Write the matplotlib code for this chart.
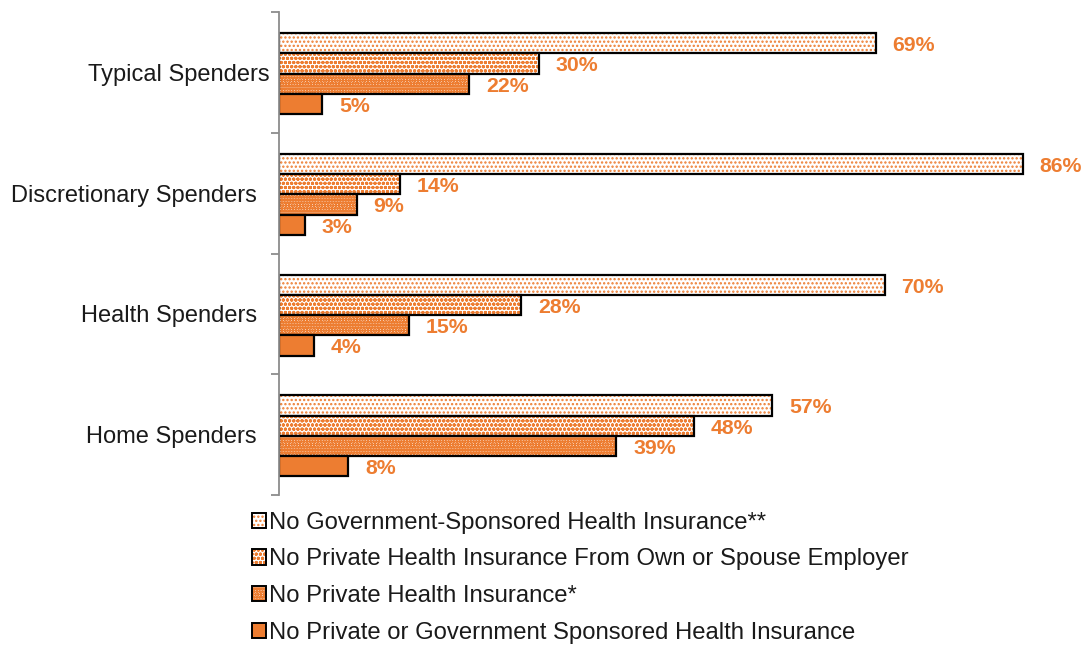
import matplotlib
matplotlib.use("Agg")
import matplotlib.pyplot as plt
import numpy as np
from matplotlib.patches import Patch

plt.rcParams["font.family"] = ["Liberation Sans", "DejaVu Sans"]
plt.rcParams["hatch.linewidth"] = 1.1

categories = ["Typical Spenders", "Discretionary Spenders", "Health Spenders", "Home Spenders"]
series_names = [
    "No Government-Sponsored Health Insurance**",
    "No Private Health Insurance From Own or Spouse Employer",
    "No Private Health Insurance*",
    "No Private or Government Sponsored Health Insurance",
]
values = [
    [69, 86, 70, 57],
    [30, 14, 28, 48],
    [22, 9, 15, 39],
    [5, 3, 4, 8],
]

orange = "#ED7D31"
hatches = ["....", "oooo", "oooooo", None]

fig = plt.figure(figsize=(10.83, 6.47), dpi=100)
ax = fig.add_axes([279 / 1083, 1 - 495 / 647, 1 - 279 / 1083, (495 - 12) / 647])

y = np.arange(len(categories))
bh = 0.168
offsets = [-1.5 * bh, -0.5 * bh, 0.5 * bh, 1.5 * bh]

for k, (vals, h) in enumerate(zip(values, hatches)):
    pos = y + offsets[k] + 0.01
    if h is None:
        ax.barh(pos, vals, height=bh, color=orange, linewidth=0)
    else:
        ax.barh(pos, vals, height=bh, facecolor="white", edgecolor=orange,
                hatch=h, linewidth=0)
    ax.barh(pos, vals, height=bh, fill=False, edgecolor="black", linewidth=1.6)
    for p, v in zip(pos, vals):
        ax.text(v + 1.95, p + 0.02, f"{v}%", ha="left", va="center",
                fontsize=15.3, fontweight="bold", color=orange)

ax.set_xlim(0, 804 / 8.65)
ax.set_ylim(3.5, -0.5)
ax.set_xticks([])
for s in ["top", "right", "bottom"]:
    ax.spines[s].set_visible(False)
ax.spines["left"].set_color("#8c8c8c")
ax.spines["left"].set_linewidth(1.3)

ax.set_yticks(y)
ax.set_yticklabels(categories, fontsize=17, color="#1a1a1a")
ax.tick_params(axis="y", which="major", length=0, pad=16)
ax.set_yticks(np.arange(-0.5, 4, 1.0), minor=True)
ax.tick_params(axis="y", which="minor", length=6, width=1.3, color="#8c8c8c")
ax.yaxis.get_major_ticks()[0].set_pad(6.5)

handles = []
for k, h in enumerate(hatches):
    border = Patch(facecolor="none", edgecolor="black", linewidth=1.4)
    if h is None:
        handles.append((Patch(facecolor=orange, edgecolor=orange, linewidth=0), border))
    else:
        handles.append((Patch(facecolor="white", edgecolor=orange, hatch=h, linewidth=0), border))

leg = fig.legend(handles, series_names, loc="upper left",
                 bbox_to_anchor=(242 / 1083, 1 - 502 / 647), frameon=False,
                 fontsize=17.2, handlelength=0.6, handleheight=0.6,
                 handletextpad=0.15, labelspacing=0.62, borderaxespad=0)
for t in leg.get_texts():
    t.set_color("#1a1a1a")

fig.savefig("out.png", dpi=100)
